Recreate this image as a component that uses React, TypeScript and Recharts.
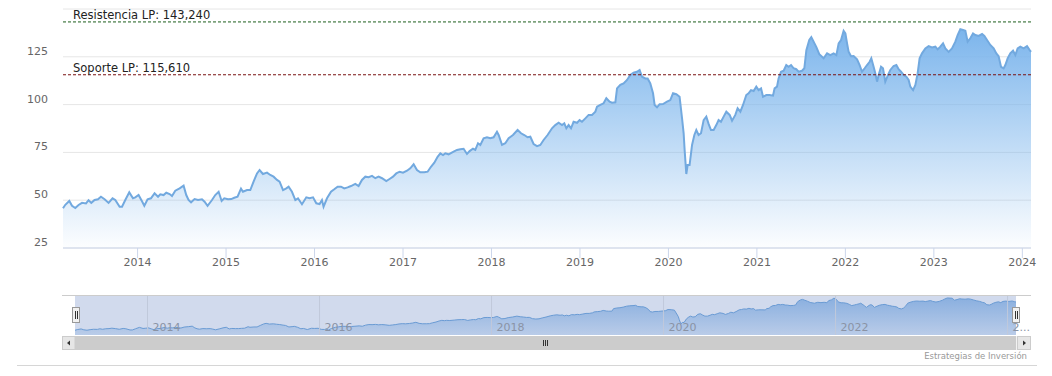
import React from 'react';
import { AreaChart, Area, XAxis, YAxis, CartesianGrid, ReferenceLine } from 'recharts';

const FONT = "'DejaVu Sans', Verdana, sans-serif";

// [decimal year, close]
const history2013to2015: Array<[number, number]> = [
  [2013.157,45.8],[2013.183,47.6],[2013.228,49.6],[2013.259,47.1],[2013.296,45.9],[2013.333,47.5],[2013.372,48.6],[2013.417,48.3],[2013.446,50],[2013.477,48.6],[2013.514,50.1],[2013.552,50.5],[2013.586,51.8],[2013.627,50.5],[2013.672,48.6],[2013.717,51],[2013.748,50.1],[2013.797,46.6],[2013.824,46.6],[2013.861,50.1],[2013.906,54.1],[2013.948,51],[2013.974,51.5],[2014.011,52.7],[2014.050,49.4],[2014.076,47.1],[2014.113,50.5],[2014.151,51],[2014.192,53.6],[2014.231,51.8],[2014.257,53.1],[2014.294,52.7],[2014.324,53.9],[2014.362,53.2],[2014.389,52.2],[2014.426,55],[2014.475,56.2],[2014.520,57.6],[2014.550,52.7],[2014.576,50.1],[2014.604,48.9],[2014.644,50.6],[2014.683,50.1],[2014.728,50.5],[2014.757,49.2],[2014.791,47.1],[2014.841,50.1],[2014.878,52.7],[2014.916,54.4],[2014.950,49.6],[2014.980,51],[2015.022,50.5],[2015.059,50.6],[2015.093,51.3],[2015.130,51.8],[2015.169,56],[2015.191,54.4],[2015.237,55.3],
];

const history2015to2017: Array<[number, number]> = [
  [2015.274,55.3],[2015.311,59.7],[2015.350,64],[2015.379,65.8],[2015.417,63.7],[2015.463,64.4],[2015.500,63.2],[2015.537,62.3],[2015.576,60.6],[2015.605,59.7],[2015.644,55.3],[2015.681,56.2],[2015.707,57.1],[2015.745,54.4],[2015.783,50.1],[2015.813,51],[2015.858,47.9],[2015.907,51.5],[2015.944,51],[2015.983,51.5],[2016.020,48.4],[2016.057,48],[2016.084,50.1],[2016.102,46.6],[2016.141,51],[2016.186,54.4],[2016.223,55.7],[2016.261,57.1],[2016.299,57.1],[2016.336,56.2],[2016.374,56.7],[2016.412,57.4],[2016.461,58.5],[2016.498,57.4],[2016.536,60.6],[2016.574,62.3],[2016.611,62],[2016.650,62.7],[2016.687,61.5],[2016.724,62.3],[2016.763,61.5],[2016.811,60],[2016.848,61.1],[2016.887,62.3],[2016.924,64],[2016.962,64.9],[2017.000,64.4],[2017.045,65.4],[2017.082,66.7],[2017.120,68.8],[2017.158,65.8],[2017.195,64.6],[2017.241,64.6],[2017.278,64.9],[2017.316,67.5],[2017.354,69.6],[2017.391,72.7],[2017.422,74.5],[2017.452,73.6],[2017.478,74.5],[2017.515,74],
];

const history2017to2019: Array<[number, number]> = [
  [2017.572,75.4],[2017.610,76.3],[2017.648,76.6],[2017.685,76.9],[2017.723,74.2],[2017.753,75.7],[2017.791,76.9],[2017.817,76.3],[2017.848,79.8],[2017.874,78.9],[2017.911,82.4],[2017.949,82.9],[2017.987,82.4],[2018.024,82.9],[2018.062,85.8],[2018.081,84.1],[2018.119,78.9],[2018.156,79.8],[2018.194,82.4],[2018.243,84.1],[2018.295,86.7],[2018.334,85],[2018.371,84.1],[2018.408,82.9],[2018.439,83.2],[2018.476,79.4],[2018.515,78.3],[2018.552,78.9],[2018.589,81.5],[2018.634,84.1],[2018.684,87.6],[2018.721,89.3],[2018.759,90.5],[2018.797,89.3],[2018.823,90.2],[2018.846,87.6],[2018.872,89.3],[2018.899,87.6],[2018.928,91],[2018.967,90.5],[2018.996,91.9],[2019.023,91],[2019.061,92.8],[2019.098,94.6],[2019.136,94.6],[2019.174,96.3],[2019.193,98.9],[2019.230,99.8],[2019.267,100.7],[2019.298,103.3],[2019.335,101.5],[2019.362,101],[2019.400,101.2],[2019.419,108.5],[2019.456,110.3],[2019.493,111.1],[2019.532,112.9],[2019.569,115.5],[2019.606,116.7],[2019.645,117.2],[2019.674,118.1],
];

const history2019to2021: Array<[number, number]> = [
  [2019.701,114.6],[2019.739,113.7],[2019.765,113.7],[2019.795,111.1],[2019.826,105.9],[2019.844,99.8],[2019.871,98.6],[2019.900,100.2],[2019.939,100.3],[2019.984,101.5],[2020.021,102.4],[2020.052,105.9],[2020.089,105.4],[2020.126,104.1],[2020.154,92.8],[2020.172,85],[2020.183,76.3],[2020.202,63.7],[2020.217,68.4],[2020.239,68.4],[2020.267,78.9],[2020.293,84.1],[2020.315,86.7],[2020.341,84.1],[2020.368,85],[2020.398,91.9],[2020.428,93.7],[2020.454,89.9],[2020.481,86.7],[2020.511,86.7],[2020.541,89.3],[2020.567,91.9],[2020.594,91],[2020.624,93.7],[2020.654,96.3],[2020.692,94.6],[2020.719,91.6],[2020.756,94.6],[2020.782,98.1],[2020.813,96.3],[2020.843,99.8],[2020.880,105],[2020.906,105.9],[2020.933,107.6],[2020.963,107.1],[2020.993,109.4],[2021.019,107.6],[2021.047,108.5],[2021.069,104.1],[2021.106,105],[2021.144,105],[2021.182,104.7],[2021.200,108.5],[2021.227,109.4],[2021.245,113.7],[2021.273,117.2],[2021.302,117.7],[2021.332,120.7],[2021.358,119.8],[2021.386,120.7],[2021.415,119],[2021.445,118.5],[2021.471,117.2],[2021.510,117.7],[2021.536,119],[2021.559,128.5],[2021.592,133.8],[2021.615,135.3],[2021.638,133.2],[2021.672,130.1],[2021.705,126.4],
];

const history2021to2024: Array<[number, number]> = [
  [2021.754,124.2],[2021.793,126.8],[2021.830,125.9],[2021.867,126.8],[2021.898,125.9],[2021.924,132],[2021.951,133.8],[2021.980,138.6],[2022.000,137.2],[2022.019,132],[2022.037,127.6],[2022.064,125.3],[2022.093,125.4],[2022.132,123.7],[2022.161,120.7],[2022.188,117.2],[2022.218,119],[2022.245,120.7],[2022.274,122.4],[2022.293,124.2],[2022.319,119.8],[2022.338,116.4],[2022.358,112],[2022.376,115.5],[2022.403,119.8],[2022.425,119],[2022.451,112],[2022.482,115.5],[2022.508,118.1],[2022.545,120.2],[2022.576,120.7],[2022.602,118.5],[2022.629,117.2],[2022.658,115.5],[2022.689,114.6],[2022.715,112.9],[2022.734,109.4],[2022.765,107.6],[2022.791,110.3],[2022.817,116.4],[2022.839,124.2],[2022.866,126.8],[2022.904,129.4],[2022.941,130.6],[2022.979,129.9],[2023.017,130.3],[2023.043,128.9],[2023.073,130.3],[2023.104,132],[2023.130,129.4],[2023.167,127.6],[2023.205,129.4],[2023.243,132.9],[2023.269,136.4],[2023.299,139.4],[2023.330,139],[2023.356,138.6],[2023.382,132.9],[2023.412,134.7],[2023.443,137.2],[2023.469,136.4],[2023.506,135.9],[2023.545,136.9],[2023.571,135.9],[2023.601,133.8],[2023.638,131.2],[2023.676,129.4],[2023.706,126.8],[2023.732,125.3],[2023.759,119.8],[2023.789,119],[2023.808,120.7],[2023.834,124.2],[2023.864,126.8],[2023.895,128.2],[2023.921,125.9],[2023.947,129.4],[2023.977,130.3],[2024.015,129.4],[2024.053,130.6],[2024.083,128.5],[2024.098,127.6],
];

const yTicks = [25, 50, 75, 100, 125, 150];
const yDomain: [number, number] = [25, 150];
const xTickYears = [2014, 2015, 2016, 2017, 2018, 2019, 2020, 2021, 2022, 2023, 2024];
const navTickYears = [2014, 2016, 2018, 2020, 2022, 2024];
const navDomain: [number, number] = [32, 148];
const resistanceLP = 143.24;
const supportLP = 115.61;
const creditText = 'Estrategias de Inversión';

const fmt = (v: number) => v.toFixed(3).replace('.', ',');

const data = [
  ...history2013to2015,
  ...history2015to2017,
  ...history2017to2019,
  ...history2019to2021,
  ...history2021to2024,
].map(([t, v]) => ({ t, v }));

const renderYTick = (props: any) => {
  const { x, y, payload } = props;
  if (payload.value === yTicks[yTicks.length - 1]) return <g />;
  return (
    <text x={x} y={y - 2} textAnchor="end" fill="#666666" fontSize={11} fontFamily={FONT}>
      {payload.value}
    </text>
  );
};

const refLabel = (text: string) => (props: any) => {
  const vb = props.viewBox || {};
  return (
    <text x={(vb.x || 0) + 10} y={(vb.y || 0) - 3} fill="#222222" fontSize={11.5} fontFamily={FONT}>
      {text}
    </text>
  );
};

const navLabel = (year: number, last: boolean) => (props: any) => {
  const vb = props.viewBox || {};
  return (
    <text x={(vb.x || 0) + 5} y={(vb.y || 0) + (vb.height || 0) - 4} fill="#8a93a5" fontSize={11} fontFamily={FONT}>
      {last ? String(year).slice(0, 1) + '...' : String(year)}
    </text>
  );
};

export default function App() {
  return (
    <div style={{ position: 'absolute', left: 0, top: 0, width: 1052, height: 376, background: '#ffffff', fontFamily: FONT }}>
      <div style={{ position: 'absolute', left: 0, top: 0 }}>
        <AreaChart width={1052} height={290} data={data} margin={{ top: 9, right: 21, bottom: 0, left: 8 }}>
          <defs>
            <linearGradient id="mainFill" x1="0" y1="0" x2="0" y2="1">
              <stop offset="0%" stopColor="#7cb5ec" stopOpacity={1} />
              <stop offset="100%" stopColor="#7cb5ec" stopOpacity={0.02} />
            </linearGradient>
          </defs>
          <CartesianGrid horizontal vertical={false} stroke="#e6e6e6" />
          <XAxis
            dataKey="t"
            type="number"
            domain={['dataMin', 'dataMax']}
            ticks={xTickYears}
            tickFormatter={(v: number) => String(v)}
            height={42}
            tickSize={10}
            tickMargin={0}
            stroke="#ccd6eb"
            tick={{ fill: '#666666', fontSize: 11, fontFamily: FONT }}
          />
          <YAxis
            domain={yDomain}
            ticks={yTicks}
            width={55}
            axisLine={false}
            tickLine={false}
            tickSize={0}
            tickMargin={15}
            tick={renderYTick}
          />
          <Area
            type="linear"
            dataKey="v"
            stroke="#72a9df"
            strokeWidth={2}
            fill="url(#mainFill)"
            fillOpacity={1}
            dot={false}
            activeDot={false}
            isAnimationActive={false}
          />
          <ReferenceLine
            y={resistanceLP}
            stroke="#1d5e1d"
            strokeDasharray="3 2"
            label={refLabel('Resistencia LP: ' + fmt(resistanceLP))}
          />
          <ReferenceLine
            y={supportLP}
            stroke="#7a1212"
            strokeDasharray="3 2"
            label={refLabel('Soporte LP: ' + fmt(supportLP))}
          />
        </AreaChart>
      </div>

      <svg style={{ position: 'absolute', left: 0, top: 0 }} width={1052} height={376}>
        <rect x={75} y={295} width={941} height={40} fill="rgba(102,133,194,0.3)" />
      </svg>

      <div style={{ position: 'absolute', left: 0, top: 290 }}>
        <AreaChart width={1052} height={50} data={data} margin={{ top: 5, right: 36, bottom: 5, left: 75 }}>
          <defs>
            <linearGradient id="navFill" x1="0" y1="0" x2="0" y2="1">
              <stop offset="0%" stopColor="#5b93d6" stopOpacity={0.6} />
              <stop offset="100%" stopColor="#5b93d6" stopOpacity={0.2} />
            </linearGradient>
          </defs>
          <XAxis dataKey="t" type="number" domain={['dataMin', 'dataMax']} hide />
          <YAxis domain={navDomain} hide />
          {navTickYears.map((yr, i) => (
            <ReferenceLine
              key={yr}
              x={yr}
              stroke="#c0c9db"
              label={navLabel(yr, i === navTickYears.length - 1)}
            />
          ))}
          <Area
            type="linear"
            dataKey="v"
            stroke="#6a9bd4"
            strokeWidth={1}
            fill="url(#navFill)"
            fillOpacity={1}
            dot={false}
            activeDot={false}
            isAnimationActive={false}
          />
        </AreaChart>
      </div>

      <svg style={{ position: 'absolute', left: 0, top: 0, pointerEvents: 'none' }} width={1052} height={376}>
        <line x1={62} y1={295.5} x2={1031} y2={295.5} stroke="#cccccc" />
        {/* scrollbar */}
        <rect x={62} y={336} width={969} height={14} fill="#f2f2f2" />
        <rect x={75} y={336} width={941} height={14} fill="#cccccc" />
        <rect x={62.5} y={336.5} width={12.5} height={13} fill="#e6e6e6" stroke="#cccccc" />
        <path d="M70 340.5 L67 343 L70 345.5 Z" fill="#333333" />
        <rect x={1017.5} y={336.5} width={13} height={13} fill="#e6e6e6" stroke="#cccccc" />
        <path d="M1023 340.5 L1026 343 L1023 345.5 Z" fill="#333333" />
        <line x1={543.5} y1={340} x2={543.5} y2={346} stroke="#333333" />
        <line x1={545.5} y1={340} x2={545.5} y2={346} stroke="#333333" />
        <line x1={547.5} y1={340} x2={547.5} y2={346} stroke="#333333" />
        {/* navigator handles */}
        <rect x={72.5} y={307.5} width={7} height={15} fill="#f2f2f2" stroke="#999999" />
        <line x1={75.5} y1={311} x2={75.5} y2={319} stroke="#333333" />
        <line x1={77.5} y1={311} x2={77.5} y2={319} stroke="#333333" />
        <rect x={1012.5} y={307.5} width={7} height={15} fill="#f2f2f2" stroke="#999999" />
        <line x1={1015.5} y1={311} x2={1015.5} y2={319} stroke="#333333" />
        <line x1={1017.5} y1={311} x2={1017.5} y2={319} stroke="#333333" />
        <text x={1027} y={359} textAnchor="end" fill="#999999" fontSize={8.5} fontFamily={FONT}>
          {creditText}
        </text>
        <line x1={17} y1={365.5} x2={1037} y2={365.5} stroke="#d6d6d6" />
      </svg>
    </div>
  );
}
